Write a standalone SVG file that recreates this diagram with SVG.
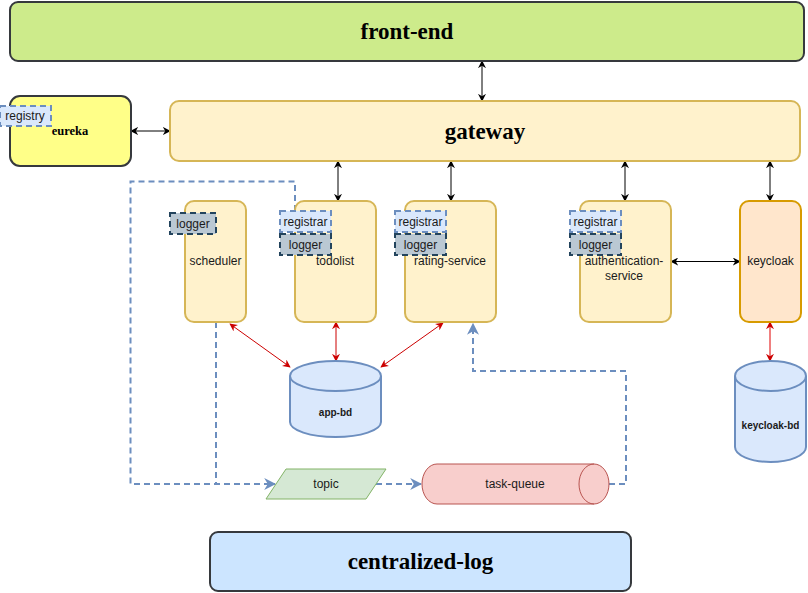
<svg xmlns="http://www.w3.org/2000/svg" width="808" height="593" viewBox="0 0 808 593">
<style>
.title{font-family:"Liberation Serif","Times New Roman",serif;font-weight:bold;font-size:23px;fill:#000;text-anchor:middle;dominant-baseline:central}
.lbl{font-family:"Liberation Sans",Arial,sans-serif;font-size:12px;fill:#1a1a1a;text-anchor:middle;dominant-baseline:central}
.db{font-family:"Liberation Sans",Arial,sans-serif;font-size:10px;font-weight:bold;fill:#1a1a1a;text-anchor:middle;dominant-baseline:central}
.svc{fill:#fff2cc;stroke:#d6b656;stroke-width:2}
.dark{stroke:#36393d;stroke-width:2}
.reg{fill:#dae8fc;stroke:#6c8ebf;stroke-width:2;stroke-dasharray:6 4}
.log{fill:#bac8d3;stroke:#23445d;stroke-width:2;stroke-dasharray:6 4}
.cyl{fill:#dae8fc;stroke:#6c8ebf;stroke-width:2}
.blk{fill:none;stroke:#000;stroke-width:1;marker-start:url(#ab);marker-end:url(#ab)}
.red{fill:none;stroke:#cc0000;stroke-width:1;marker-start:url(#ar);marker-end:url(#ar)}
.dash{fill:none;stroke:#6c8ebf;stroke-width:2;stroke-dasharray:6 4}
</style>
<defs>
<marker id="ab" viewBox="0 0 10 10" refX="9" refY="5" markerWidth="8" markerHeight="8" markerUnits="userSpaceOnUse" orient="auto-start-reverse"><path d="M0,0 L10,5 L0,10 L3,5 z" fill="#000"/></marker>
<marker id="ar" viewBox="0 0 10 10" refX="9" refY="5" markerWidth="8" markerHeight="8" markerUnits="userSpaceOnUse" orient="auto-start-reverse"><path d="M0,0 L10,5 L0,10 L3,5 z" fill="#cc0000"/></marker>
<marker id="abl" viewBox="0 0 10 10" refX="9" refY="5" markerWidth="12" markerHeight="12" markerUnits="userSpaceOnUse" orient="auto"><path d="M0,0 L10,5 L0,10 L3,5 z" fill="#6c8ebf"/></marker>
</defs>

<g id="connectors">
<path class="blk" d="M482,61 V101"/>
<path class="blk" d="M131,131 H170"/>
<path class="blk" d="M338,161 V201"/>
<path class="blk" d="M451,161 V201"/>
<path class="blk" d="M625,161 V201"/>
<path class="blk" d="M770,161 V201"/>
<path class="blk" d="M671,261.5 H740"/>
<path class="red" d="M230,324 L290,367"/>
<path class="red" d="M336,322 V361"/>
<path class="red" d="M443,323 L381,367"/>
<path class="red" d="M770,322 V361" style="stroke:#e00000"/>
<path class="dash" d="M295,211 V181.5 H130.5 V484 H216"/>
<path class="dash" d="M216,322 V484 H275" style="marker-end:url(#abl)"/>
<path class="dash" d="M376,484 H421" style="marker-end:url(#abl)"/>
<path class="dash" d="M609,484 H626 V371 H473 V324" style="marker-end:url(#abl)"/>
</g>

<g id="front-end">
<rect x="10" y="2" width="794" height="59" rx="8" fill="#cdeb8b" class="dark"/>
<text class="title" x="407" y="31">front-end</text>
</g>

<g id="gateway">
<rect x="170" y="101" width="630" height="60" rx="9" class="svc"/>
<text class="title" x="485" y="131">gateway</text>
</g>

<g id="eureka">
<rect x="10" y="96" width="121" height="70" rx="10" fill="#ffff88" class="dark"/>
<text x="70" y="131" style="font-family:'Liberation Serif','Times New Roman',serif;font-weight:bold;font-size:12.5px;text-anchor:middle;dominant-baseline:central">eureka</text>
<rect x="0" y="106" width="51" height="20" class="reg"/>
<text class="lbl" x="25" y="116">registry</text>
</g>

<g id="scheduler">
<rect x="185" y="201" width="61" height="121" rx="9" class="svc"/>
<text class="lbl" x="215.5" y="261">scheduler</text>
<rect x="170" y="213" width="46" height="21" class="log"/>
<text class="lbl" x="193" y="223.5">logger</text>
</g>

<g id="todolist">
<rect x="295" y="201" width="81" height="121" rx="9" class="svc"/>
<text class="lbl" x="335" y="261">todolist</text>
<rect x="280" y="211" width="51" height="21" class="reg"/>
<text class="lbl" x="305.5" y="221.5">registrar</text>
<rect x="280" y="234" width="51" height="21" class="log"/>
<text class="lbl" x="305.5" y="244.5">logger</text>
</g>

<g id="rating-service">
<rect x="405" y="201" width="91" height="121" rx="9" class="svc"/>
<text class="lbl" x="450" y="261">rating-service</text>
<rect x="395" y="211" width="51" height="21" class="reg"/>
<text class="lbl" x="420.5" y="221.5">registrar</text>
<rect x="395" y="234" width="51" height="21" class="log"/>
<text class="lbl" x="420.5" y="244.5">logger</text>
</g>

<g id="authentication-service">
<rect x="580" y="201" width="91" height="121" rx="9" class="svc"/>
<text class="lbl" x="624" y="261">authentication-</text>
<text class="lbl" x="624" y="276">service</text>
<rect x="570" y="211" width="51" height="21" class="reg"/>
<text class="lbl" x="595.5" y="221.5">registrar</text>
<rect x="570" y="234" width="51" height="21" class="log"/>
<text class="lbl" x="595.5" y="244.5">logger</text>
</g>

<g id="keycloak">
<rect x="740" y="201" width="61" height="121" rx="9" fill="#ffe6cc" stroke="#d79b00" stroke-width="2"/>
<text class="lbl" x="770.5" y="261">keycloak</text>
</g>

<g id="app-bd">
<path class="cyl" d="M290,376 A45.5,15 0 0 1 381,376 V422 A45.5,15 0 0 1 290,422 Z"/>
<path d="M290,376 A45.5,15 0 0 0 381,376" fill="none" stroke="#6c8ebf" stroke-width="2"/>
<text class="db" x="335.5" y="412">app-bd</text>
</g>

<g id="keycloak-bd">
<path class="cyl" d="M735,376 A35.5,15 0 0 1 806,376 V447 A35.5,15 0 0 1 735,447 Z"/>
<path d="M735,376 A35.5,15 0 0 0 806,376" fill="none" stroke="#6c8ebf" stroke-width="2"/>
<text class="db" x="770.5" y="425">keycloak-bd</text>
</g>

<g id="topic">
<polygon points="286,469 386,469 366,499 266,499" fill="#d5e8d4" stroke="#82b366" stroke-width="1"/>
<text class="lbl" x="326" y="484">topic</text>
</g>

<g id="task-queue">
<path d="M437,464 H594 A15,20 0 0 1 594,504 H437 A15,20 0 0 1 437,464 Z" fill="#f8cecc" stroke="#b85450" stroke-width="1"/>
<path d="M594,464 A15,20 0 0 0 594,504" fill="none" stroke="#b85450" stroke-width="1"/>
<text class="lbl" x="515" y="484">task-queue</text>
</g>

<g id="centralized-log">
<rect x="210" y="532" width="421" height="59" rx="8" fill="#cce5ff" class="dark"/>
<text class="title" x="420.5" y="561">centralized-log</text>
</g>
</svg>
